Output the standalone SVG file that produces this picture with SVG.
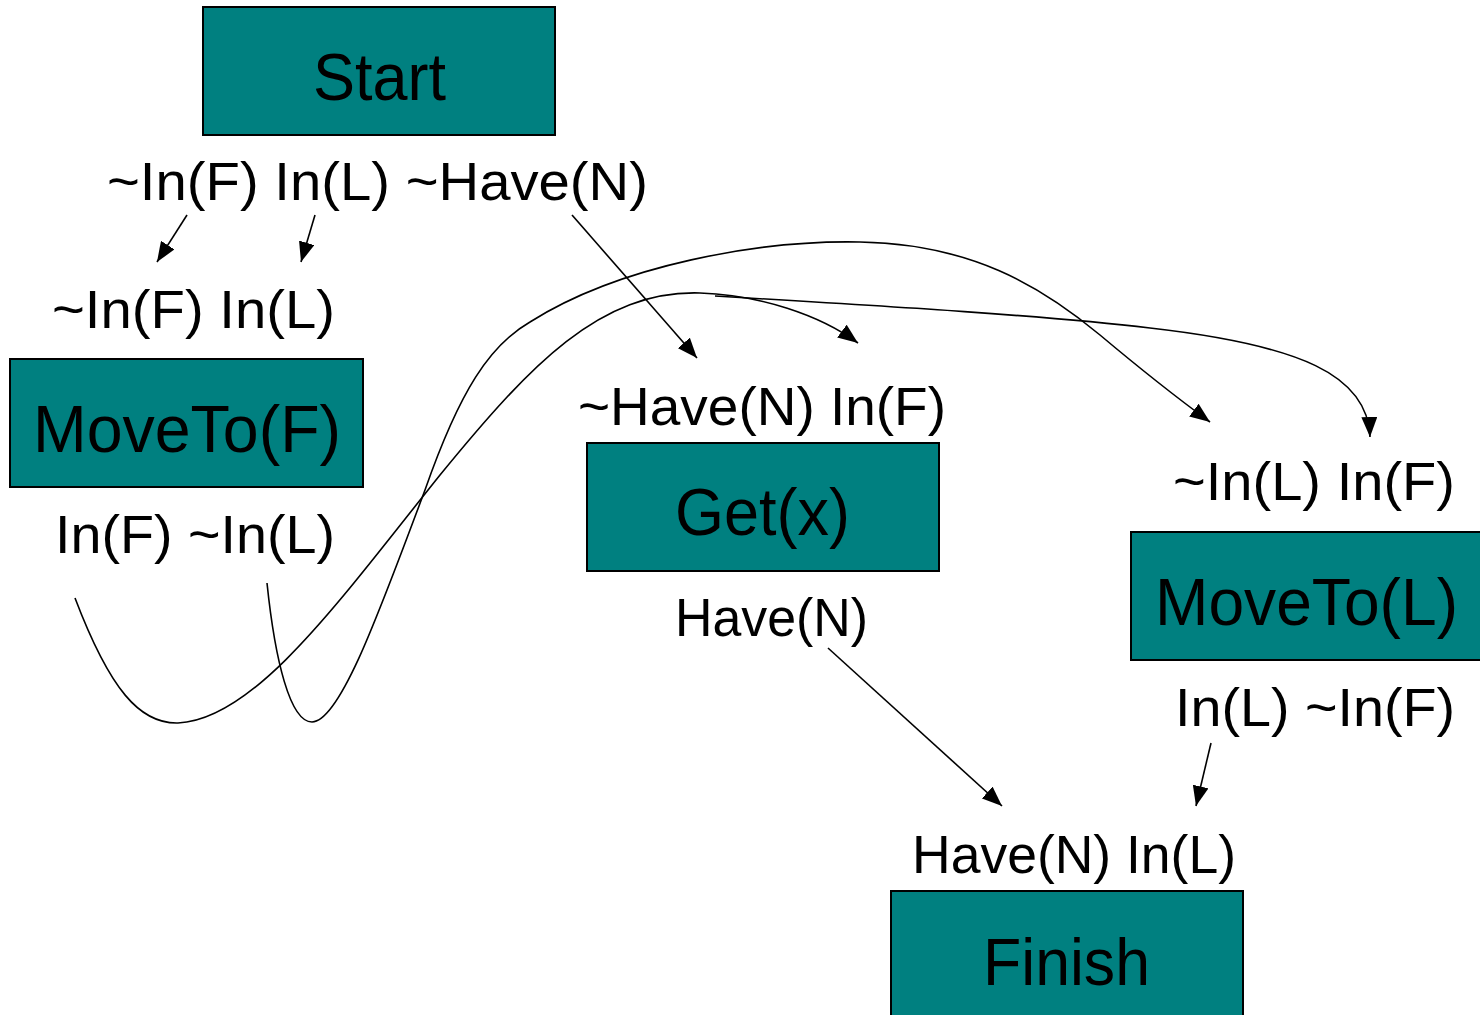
<svg xmlns="http://www.w3.org/2000/svg" width="1480" height="1015" viewBox="0 0 1480 1015">
  <defs>
    <style>
      .box { fill: #008080; stroke: #000; stroke-width: 2; }
      .title { font-family: "Liberation Sans", Arial, sans-serif; font-size: 66px; fill: #000; }
      .cond { font-family: "Liberation Sans", Arial, sans-serif; font-size: 53px; fill: #000; }
      .link { fill: none; stroke: #000; stroke-width: 1.6; marker-end: url(#head); }
    </style>
    <marker id="head" viewBox="0 0 20 16" refX="20" refY="8" markerWidth="20" markerHeight="16" markerUnits="userSpaceOnUse" orient="auto">
      <path d="M0,0 L20,8 L0,16 z" fill="#000"/>
    </marker>
  </defs>
  <rect width="1480" height="1015" fill="#fff"/>

  <g id="start">
    <rect class="box" x="203" y="7" width="352" height="128"/>
    <text class="title" x="313" y="100" textLength="133" lengthAdjust="spacingAndGlyphs">Start</text>
    <text class="cond" x="107" y="200" textLength="541" lengthAdjust="spacingAndGlyphs">~In(F) In(L) ~Have(N)</text>
  </g>

  <g id="moveto-f">
    <text class="cond" x="52" y="328" textLength="283" lengthAdjust="spacingAndGlyphs">~In(F) In(L)</text>
    <rect class="box" x="10" y="359" width="353" height="128"/>
    <text class="title" x="33" y="452" textLength="308" lengthAdjust="spacingAndGlyphs">MoveTo(F)</text>
    <text class="cond" x="55" y="553" textLength="280" lengthAdjust="spacingAndGlyphs">In(F) ~In(L)</text>
  </g>

  <g id="get-x">
    <text class="cond" x="578" y="425" textLength="368" lengthAdjust="spacingAndGlyphs">~Have(N) In(F)</text>
    <rect class="box" x="587" y="443" width="352" height="128"/>
    <text class="title" x="675" y="535" textLength="175" lengthAdjust="spacingAndGlyphs">Get(x)</text>
    <text class="cond" x="675" y="636" textLength="193" lengthAdjust="spacingAndGlyphs">Have(N)</text>
  </g>

  <g id="moveto-l">
    <text class="cond" x="1173" y="500" textLength="282" lengthAdjust="spacingAndGlyphs">~In(L) In(F)</text>
    <rect class="box" x="1131" y="532" width="352" height="128"/>
    <text class="title" x="1155" y="625" textLength="303" lengthAdjust="spacingAndGlyphs">MoveTo(L)</text>
    <text class="cond" x="1175" y="726" textLength="280" lengthAdjust="spacingAndGlyphs">In(L) ~In(F)</text>
  </g>

  <g id="finish">
    <text class="cond" x="912" y="873" textLength="324" lengthAdjust="spacingAndGlyphs">Have(N) In(L)</text>
    <rect class="box" x="891" y="891" width="352" height="135"/>
    <text class="title" x="983" y="985" textLength="167" lengthAdjust="spacingAndGlyphs">Finish</text>
  </g>

  <g id="connectors">
    <path class="link" d="M187,215 L157,262"/>
    <path class="link" d="M315,215 L301,262"/>
    <path class="link" d="M572,215 L697,358"/>
    <path class="link" d="M828,648 L1002,806"/>
    <path class="link" d="M1211,743 L1196,806"/>
    <!-- In(F) of MoveTo(F) to the In(F) precondition of Get(x) -->
    <path class="link" d="M75,598 C110,690 140,724 178,723 C255,720 340,600 440,475 C530,365 600,290 700,293 C760,295 820,315 858,343"/>
    <!-- In(F) branch to MoveTo(L) -->
    <path class="link" d="M715,296 C900,307 1050,316 1150,328 C1300,345 1368,375 1370,437"/>
    <!-- ~In(L) of MoveTo(F) to the ~In(L) precondition of MoveTo(L) -->
    <path class="link" d="M267,583 C275,660 290,722 312,722 C340,722 380,610 425,490 C460,390 490,345 530,322 C620,265 760,240 860,242 C970,244 1040,285 1100,335 C1150,377 1180,400 1210,422"/>
  </g>
</svg>
